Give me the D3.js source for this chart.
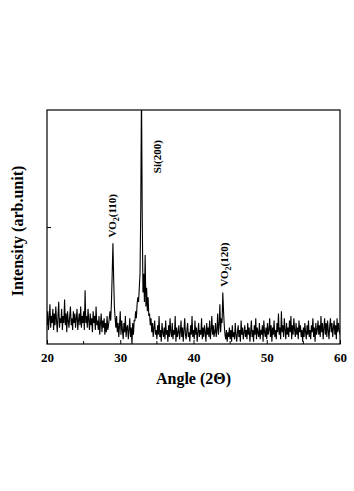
<!DOCTYPE html>
<html>
<head>
<meta charset="utf-8">
<script src="https://cdn.jsdelivr.net/npm/d3@7"></script>
<style>
    body { margin: 0; background: #fff; }
    svg text { font-family: "Liberation Serif", "Times New Roman", serif; font-weight: bold; fill: #000; }
</style>
</head>
<body>
<div id="chart"></div>
<script>
// scan start / step (degrees 2-theta)
const startAngle = 20;
const stepAngle = 0.1;

// intensity, one row per degree (arb. units, 0-100 = frame height)
const intensity = [
    8,14,6,11,17,7,12,9,15,6,
    13,8,16,10,5,12,18,7,11,9,
    15,6,12,9,19,8,13,5,14,10,
    7,12,16,8,11,6,14,9,13,7,
    11,15,6,10,13,8,16,7,12,9,
    14,6,23,9,12,7,15,10,6,13,
    8,11,5,14,9,12,6,16,8,10,
    6,12,4,9,13,5,10,7,11,4,
    9,5,12,6,8,11,14,10,18,30,
    43,28,16,11,7,12,5,9,3,8,
    14,4,10,6,2,9,5,12,3,7,
    8,2,6,11,3,7,0,9,4,10,
    10,14,11,17,20,18,24,30,58,110,
    55,22,30,18,38,16,24,14,20,12,
    13,8,11,5,9,3,7,10,4,6,
    2,8,4,12,3,6,1,9,5,3,
    7,2,10,4,6,1,8,3,11,5,
    3,9,2,6,4,12,1,7,3,5,
    8,2,5,10,3,7,1,6,11,4,
    2,6,9,3,5,1,8,4,12,3,
    6,2,10,4,7,1,5,9,3,6,
    4,11,2,7,3,8,5,1,9,4,
    7,3,10,2,6,12,4,8,3,5,
    9,3,6,13,4,8,17,5,11,9,
    22,14,8,4,2,6,1,5,3,7,
    2,6,1,8,3,5,2,9,4,1,
    5,8,3,6,1,10,4,7,2,5,
    8,3,6,2,9,4,7,1,5,10,
    3,6,1,8,4,11,2,7,5,3,
    9,2,6,4,8,1,10,5,3,7,
    2,9,4,6,11,3,8,1,7,4,
    10,3,6,2,9,5,13,4,7,2,
    14,5,8,3,11,6,2,9,4,7,
    3,10,5,12,2,8,4,11,6,3,
    9,4,7,2,10,5,8,3,6,1,
    7,3,9,5,2,8,4,10,3,6,
    2,8,5,11,3,7,1,9,4,6,
    10,4,8,3,12,5,9,2,7,11,
    4,9,3,10,6,2,8,11,5,9,
    3,7,10,4,8,2,11,5,9,6,
    4
];

const xTicks = [20, 30, 40, 50, 60];
const xMinorTicks = [25, 35, 45, 55];
const yTicks = [50];

// peak labels: angle, text before subscript, subscript, text after, bottom of label (intensity units)
const peakAngles = [28.95, 35.1, 44.2];
const peakNames = ['VO', 'Si(200)', 'VO'];
const peakSubs = ['2', '', '2'];
const peakTails = ['(110)', '', '(120)'];
const peakBottoms = [45.5, 73, 24.5];

const width = 354, height = 491;
const margin = {left: 47, right: 14, top: 110, bottom: 147};

const svg = d3.select('#chart').append('svg')
    .attr('width', width)
    .attr('height', height);

const x = d3.scaleLinear()
    .domain([20, 60])
    .range([margin.left, width - margin.right]);

const y = d3.scaleLinear()
    .domain([0, 100])
    .range([height - margin.bottom, margin.top]);

const scan = intensity.map((v, i) => ({angle: startAngle + i * stepAngle, value: v}));

svg.append('clipPath')
    .attr('id', 'plotClip')
    .append('rect')
    .attr('x', margin.left)
    .attr('y', margin.top)
    .attr('width', x(60) - x(20))
    .attr('height', y(0) - y(100));

const line = d3.line()
    .x(d => x(d.angle))
    .y(d => y(d.value));

svg.append('path')
    .datum(scan)
    .attr('clip-path', 'url(#plotClip)')
    .attr('d', line)
    .attr('fill', 'none')
    .attr('stroke', '#000')
    .attr('stroke-width', 1.1)
    .attr('stroke-linejoin', 'miter');

// frame
svg.append('rect')
    .attr('x', margin.left)
    .attr('y', margin.top)
    .attr('width', x(60) - x(20))
    .attr('height', y(0) - y(100))
    .attr('fill', 'none')
    .attr('stroke', '#000')
    .attr('stroke-width', 1.2);

// x axis, ticks pointing inward
const xAxis = svg.append('g')
    .attr('transform', `translate(0,${y(0)})`)
    .call(d3.axisBottom(x).tickValues(xTicks).tickSizeInner(-4).tickSizeOuter(0).tickPadding(9));
xAxis.select('.domain').remove();
xAxis.selectAll('text').attr('font-size', 13).attr('font-family', null);

svg.append('g')
    .selectAll('line')
    .data(xMinorTicks)
    .join('line')
    .attr('x1', d => x(d))
    .attr('x2', d => x(d))
    .attr('y1', y(0))
    .attr('y2', y(0) - 3)
    .attr('stroke', '#000');

// y axis: single inward tick, no labels
const yAxis = svg.append('g')
    .attr('transform', `translate(${x(20)},0)`)
    .call(d3.axisLeft(y).tickValues(yTicks).tickSizeInner(-4).tickSizeOuter(0).tickFormat(''));
yAxis.select('.domain').remove();

// axis titles
svg.append('text')
    .attr('x', (x(20) + x(60)) / 2)
    .attr('y', 384)
    .attr('text-anchor', 'middle')
    .attr('font-size', 16)
    .text('Angle (2\u0398)');

svg.append('text')
    .attr('transform', `translate(23,${(y(0) + y(100)) / 2 + 4}) rotate(-90)`)
    .attr('text-anchor', 'middle')
    .attr('font-size', 16)
    .text('Intensity (arb.unit)');

// peak labels, rotated
peakAngles.forEach((a, i) => {
    const t = svg.append('text')
        .attr('transform', `translate(${x(a) + 3.5},${y(peakBottoms[i])}) rotate(-90)`)
        .attr('font-size', 11);
    t.append('tspan').text(peakNames[i]);
    if (peakSubs[i]) {
        t.append('tspan').attr('font-size', 8).attr('dy', 3).text(peakSubs[i]);
        t.append('tspan').attr('dy', -3).text(peakTails[i]);
    }
});
</script>
</body>
</html>
